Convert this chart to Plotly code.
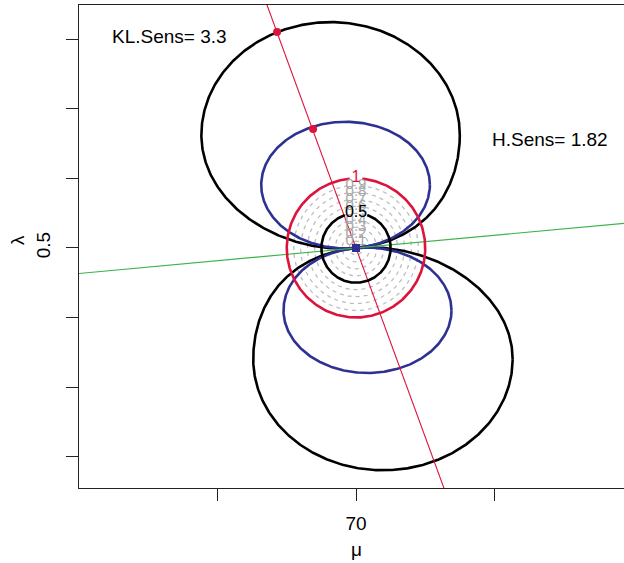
import numpy as np
import plotly.graph_objects as go

# ---------------- data ----------------
mu0 = 70.0          # centre of the perturbation circle (mu)
lam0 = 0.5          # centre (lambda)
sd_mu = 5.0         # unit radius along mu
sd_lam = 0.1        # unit radius along lambda

circle_levels = [0.1, 0.2, 0.3, 0.4, 0.5, 0.6, 0.7, 0.8, 0.9]
circle_labels = ["0.1", "0.2", "0.3", "0.4", "0.5", "0.6", "0.7", "0.8", "0.9"]
black_circle_level = 0.5
red_circle_level = 1.0

# egg-shaped contours through the centre, in units of (sd_mu, sd_lam):
#   cx, cy (centre), A (half width), D (half height), G (tip shift), E (tip tilt), tip (-1 bottom / +1 top)
upper_black = [-0.367, 1.625, 1.866, 1.625, 0.367, -0.172, -1]
lower_black = [0.389, -1.599, 1.873, 1.599, -0.389, 0.172, 1]
upper_blue = [-0.151, 0.908, 1.218, 0.908, 0.151, -0.112, -1]
lower_blue = [0.166, -0.899, 1.213, 0.899, -0.166, 0.112, 1]

red_slope = -0.0544     # d lambda / d mu
green_slope = 0.00183

dot_mu = [64.30, 66.90]
dot_lam = [0.8108, 0.6712]

x_ticks = [60, 70, 80]
x_ticktext = ["", "70", ""]
y_ticks = [0.2, 0.3, 0.4, 0.5, 0.6, 0.7, 0.8]
y_ticktext = ["", "", "", "0.5", "", "", ""]

kl_text = "KL.Sens= 3.3"
kl_mu, kl_lam = 56.57, 0.8036
h_text = "H.Sens= 1.82"
h_mu, h_lam = 84.0, 0.6554

x_range = [50.0, 89.35]
y_range = [0.1547, 0.8496]

# ---------------- styles ----------------
FONT = "Liberation Sans, Arial, sans-serif"
RED = "#DC143C"
BLUE = "#2E3192"
GREEN = "#3CB44B"
GRAY = "#BEBEBE"
GRAYTXT = "#A8A8A8"

fig = go.Figure()


def circle(level, gap=0.0, n=400):
    t = np.linspace(np.pi / 2 + gap, np.pi / 2 + 2 * np.pi - gap, n)
    return mu0 + level * sd_mu * np.cos(t), lam0 + level * sd_lam * np.sin(t)


def egg(p, n=600):
    cx, cy, A, D, G, E, tip = p
    t = np.linspace(0, 2 * np.pi, n)
    s, c = np.sin(t), np.cos(t)
    w = np.minimum(0, s) if tip < 0 else np.maximum(0, s)
    u = cx + A * c + G * w ** 2
    v = cy + D * s + E * w * c
    return mu0 + sd_mu * u, lam0 + sd_lam * v


# gray dashed contours
for lv in circle_levels:
    x, y = circle(lv)
    fig.add_trace(go.Scatter(x=x, y=y, mode="lines", hoverinfo="skip",
                             line=dict(color=GRAY, width=1.3, dash="4px,4px")))

# egg contours
for p, col in [(upper_black, "black"), (lower_black, "black"),
               (upper_blue, BLUE), (lower_blue, BLUE)]:
    x, y = egg(p)
    fig.add_trace(go.Scatter(x=x, y=y, mode="lines", hoverinfo="skip",
                             line=dict(color=col, width=2.6)))

# straight lines through the centre
for slope, col in [(green_slope, GREEN), (red_slope, RED)]:
    xs = np.array(x_range)
    fig.add_trace(go.Scatter(x=xs, y=lam0 + slope * (xs - mu0), mode="lines",
                             hoverinfo="skip", line=dict(color=col, width=1.1)))

# red and black circles with a gap for labels
x, y = circle(red_circle_level, gap=0.09)
fig.add_trace(go.Scatter(x=x, y=y, mode="lines", hoverinfo="skip",
                         line=dict(color=RED, width=2.6)))
x, y = circle(black_circle_level, gap=0.33)
fig.add_trace(go.Scatter(x=x, y=y, mode="lines", hoverinfo="skip",
                         line=dict(color="black", width=2.6)))

# contour labels
fig.add_trace(go.Scatter(x=[mu0] * len(circle_levels),
                         y=[lam0 + lv * sd_lam for lv in circle_levels],
                         mode="text", text=circle_labels, hoverinfo="skip",
                         textfont=dict(family=FONT, size=15, color=GRAYTXT)))
fig.add_trace(go.Scatter(x=[mu0, mu0],
                         y=[lam0 + black_circle_level * sd_lam, lam0 + red_circle_level * sd_lam],
                         mode="text", text=["0.5", "1"], hoverinfo="skip",
                         textfont=dict(family=FONT, size=16, color=["black", RED])))

# dots and centre marker
fig.add_trace(go.Scatter(x=dot_mu, y=dot_lam, mode="markers", hoverinfo="skip",
                         marker=dict(color=RED, size=8)))
fig.add_trace(go.Scatter(x=[mu0], y=[lam0], mode="markers", hoverinfo="skip",
                         marker=dict(color=BLUE, size=8, symbol="square")))

# text
fig.add_annotation(x=kl_mu, y=kl_lam, text=kl_text, showarrow=False,
                   font=dict(family=FONT, size=19, color="black"))
fig.add_annotation(x=h_mu, y=h_lam, text=h_text, showarrow=False,
                   font=dict(family=FONT, size=19, color="black"))
fig.add_annotation(xref="x", yref="paper", x=mu0, y=-0.1263, text="μ", showarrow=False,
                   xanchor="center", yanchor="middle",
                   font=dict(family=FONT, size=19, color="black"))
fig.add_annotation(xref="paper", yref="paper", x=-0.1119, y=0.5135, text="λ",
                   textangle=-90, showarrow=False, xanchor="center", yanchor="middle",
                   font=dict(family=FONT, size=19, color="black"))

fig.update_layout(
    width=624, height=563,
    margin=dict(l=79, r=0, t=5, b=75),
    paper_bgcolor="white", plot_bgcolor="white",
    showlegend=False,
    xaxis=dict(range=x_range, showgrid=False, zeroline=False,
               showline=True, mirror=True, linecolor="#222", linewidth=1.2,
               ticks="outside", ticklen=12, tickwidth=1.2, tickcolor="#222",
               tickvals=x_ticks, ticktext=x_ticktext,
               tickfont=dict(family=FONT, size=19, color="black"),
               ticklabelstandoff=6),
    yaxis=dict(range=y_range, showgrid=False, zeroline=False,
               showline=True, mirror=False, linecolor="#222", linewidth=1.2,
               ticks="outside", ticklen=12, tickwidth=1.2, tickcolor="#222",
               tickvals=y_ticks, ticktext=y_ticktext, tickangle=-90,
               tickfont=dict(family=FONT, size=19, color="black"),
               ticklabelstandoff=8),
)

fig.write_html("out.html", config={"displayModeBar": False},
               post_script="document.body.style.margin='0';document.body.style.overflow='hidden';")
